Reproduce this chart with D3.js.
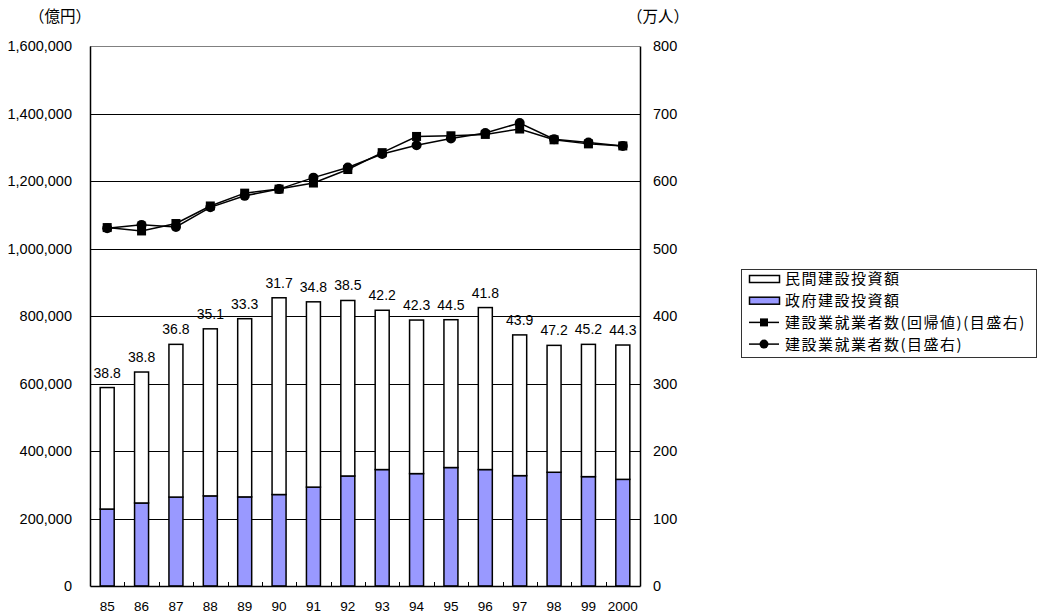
<!DOCTYPE html>
<html>
<head>
<meta charset="utf-8">
<script src="https://cdn.jsdelivr.net/npm/d3@7"></script>
<style>
  html, body { margin: 0; padding: 0; background: #fff; }
  svg { display: block; }
  .num { font-family: "Liberation Sans", Arial, sans-serif; fill: #000; }
  .jp { font-family: "Noto Sans CJK JP", "Noto Sans", sans-serif; fill: #000; }
</style>
</head>
<body>
<svg id="chart" width="1037" height="614"></svg>
<script>
// 年度
const years = ["85", "86", "87", "88", "89", "90", "91", "92", "93", "94", "95", "96", "97", "98", "99", "2000"];
// 民間建設投資額（億円）
const privateInvestment = [360000, 388000, 452500, 495000, 528000, 583000, 549000, 520000, 472000, 455000, 438000, 480000, 417000, 376000, 392000, 398000];
// 政府建設投資額（億円）
const govInvestment = [228000, 246000, 263500, 267000, 264000, 271000, 293000, 326000, 345000, 333000, 351000, 345000, 327000, 337000, 324000, 316000];
// 政府建設投資の比率（％）
const govShare = [38.8, 38.8, 36.8, 35.1, 33.3, 31.7, 34.8, 38.5, 42.2, 42.3, 44.5, 41.8, 43.9, 47.2, 45.2, 44.3];
// 建設業就業者数（回帰値）（万人）
const workersFitted = [531, 526, 537, 563, 582, 588, 597, 617, 642, 666, 667, 669, 677, 661, 655, 652];
// 建設業就業者数（万人）
const workers = [530, 535, 532, 561, 578, 588, 605, 620, 640, 653, 663, 671, 686, 662, 657, 652];
// 目盛
const leftTicks = [0, 200000, 400000, 600000, 800000, 1000000, 1200000, 1400000, 1600000];
const rightTicks = [0, 100, 200, 300, 400, 500, 600, 700, 800];

const legendItems = [
  { label: "民間建設投資額", kind: "rect", fill: "#ffffff" },
  { label: "政府建設投資額", kind: "rect", fill: "#9999ff" },
  { label: "建設業就業者数(回帰値)(目盛右)", kind: "square" },
  { label: "建設業就業者数(目盛右)", kind: "circle" }
];

const svg = d3.select("#chart");
const plot = { left: 90, right: 640, top: 46, bottom: 586 };

const x = d3.scaleBand().domain(years).range([plot.left, plot.right]).paddingInner(0).paddingOuter(0);
const yL = d3.scaleLinear().domain([0, 1600000]).range([plot.bottom, plot.top]);
const yR = d3.scaleLinear().domain([0, 800]).range([plot.bottom, plot.top]);

const rows = years.map((yr, i) => ({
  yr,
  gov: govInvestment[i],
  priv: privateInvestment[i],
  share: govShare[i],
  fitted: workersFitted[i],
  actual: workers[i]
}));

// gridlines
svg.append("g")
  .selectAll("line")
  .data(leftTicks.filter(t => t > 0 && t < 1600000))
  .join("line")
  .attr("x1", plot.left).attr("x2", plot.right)
  .attr("y1", d => Math.round(yL(d)) + 0.5).attr("y2", d => Math.round(yL(d)) + 0.5)
  .attr("stroke", "#000").attr("stroke-width", 1);

// plot frame top
svg.append("line")
  .attr("x1", plot.left).attr("x2", plot.right)
  .attr("y1", plot.top + 0.5).attr("y2", plot.top + 0.5)
  .attr("stroke", "#808080").attr("stroke-width", 1);

// stacked bars
const barW = 14;
const stack = d3.stack().keys(["gov", "priv"])(rows);
const fills = { gov: "#9999ff", priv: "#ffffff" };
svg.append("g")
  .selectAll("g")
  .data(stack)
  .join("g")
  .attr("fill", d => fills[d.key])
  .selectAll("rect")
  .data(d => d)
  .join("rect")
  .attr("x", d => x(d.data.yr) + x.bandwidth() / 2 - barW / 2)
  .attr("width", barW)
  .attr("y", d => yL(d[1]))
  .attr("height", d => yL(d[0]) - yL(d[1]))
  .attr("stroke", "#000")
  .attr("stroke-width", 1.5);

// share labels above bars
svg.append("g")
  .selectAll("text")
  .data(rows)
  .join("text")
  .attr("class", "num")
  .attr("font-size", 14)
  .attr("text-anchor", "middle")
  .attr("x", d => x(d.yr) + x.bandwidth() / 2)
  .attr("y", d => yL(d.gov + d.priv) - 10)
  .text(d => d3.format(".1f")(d.share));

// category tick marks between bars
svg.append("g")
  .selectAll("line")
  .data(years.slice(1))
  .join("line")
  .attr("x1", d => Math.round(x(d)) + 0.5).attr("x2", d => Math.round(x(d)) + 0.5)
  .attr("y1", plot.bottom).attr("y2", plot.bottom - 4)
  .attr("stroke", "#000");

// axes
const leftAxis = d3.axisLeft(yL).tickValues(leftTicks).tickFormat(d3.format(",")).tickSize(0).tickPadding(18);
const gL = svg.append("g").attr("transform", `translate(${plot.left},0)`).call(leftAxis);
const rightAxis = d3.axisRight(yR).tickValues(rightTicks).tickSize(0).tickPadding(13);
const gR = svg.append("g").attr("transform", `translate(${plot.right},0)`).call(rightAxis);
const bottomAxis = d3.axisBottom(x).tickSize(0).tickPadding(15);
const gB = svg.append("g").attr("transform", `translate(0,${plot.bottom})`).call(bottomAxis);

[gL, gR, gB].forEach(g => {
  g.select(".domain").attr("stroke", "#000").attr("stroke-width", 1.5);
  g.selectAll("text").attr("class", "num").attr("fill", "#000")
    .attr("font-family", null).attr("font-size", null).style("font-size", "14.5px");
});
gB.selectAll("text").style("font-size", "13.5px");

// lines (right scale)
const lineFitted = d3.line().x(d => x(d.yr) + x.bandwidth() / 2).y(d => yR(d.fitted));
const lineActual = d3.line().x(d => x(d.yr) + x.bandwidth() / 2).y(d => yR(d.actual));

svg.append("path").datum(rows).attr("d", lineFitted)
  .attr("fill", "none").attr("stroke", "#000").attr("stroke-width", 1.5);
svg.append("g").selectAll("rect").data(rows).join("rect")
  .attr("x", d => x(d.yr) + x.bandwidth() / 2 - 4.5)
  .attr("y", d => yR(d.fitted) - 4.5)
  .attr("width", 9).attr("height", 9).attr("fill", "#000");

svg.append("path").datum(rows).attr("d", lineActual)
  .attr("fill", "none").attr("stroke", "#000").attr("stroke-width", 1.5);
svg.append("g").selectAll("circle").data(rows).join("circle")
  .attr("cx", d => x(d.yr) + x.bandwidth() / 2)
  .attr("cy", d => yR(d.actual))
  .attr("r", 5).attr("fill", "#000");

// unit labels
svg.append("text").attr("class", "jp").attr("font-size", 15.5)
  .attr("x", 60).attr("y", 22).attr("text-anchor", "middle").text("（億円）");
svg.append("text").attr("class", "jp").attr("font-size", 15.5)
  .attr("x", 658).attr("y", 22).attr("text-anchor", "middle").text("（万人）");

// legend
const lg = svg.append("g").attr("transform", "translate(741,269)");
lg.append("rect").attr("x", 0.5).attr("y", 0.5).attr("width", 295).attr("height", 88)
  .attr("fill", "#fff").attr("stroke", "#333").attr("stroke-width", 1);
const rowY = i => 10 + i * 21.7;
const item = lg.selectAll("g.item").data(legendItems).join("g")
  .attr("class", "item")
  .attr("transform", (d, i) => `translate(0,${rowY(i)})`);
item.filter(d => d.kind === "rect").append("rect")
  .attr("x", 8.5).attr("y", -3.5).attr("width", 30).attr("height", 7)
  .attr("fill", d => d.fill).attr("stroke", "#000").attr("stroke-width", 1.5);
item.filter(d => d.kind !== "rect").append("line")
  .attr("x1", 8).attr("x2", 38).attr("y1", 0).attr("y2", 0)
  .attr("stroke", "#000").attr("stroke-width", 1.5);
item.filter(d => d.kind === "square").append("rect")
  .attr("x", 19).attr("y", -4).attr("width", 8).attr("height", 8).attr("fill", "#000");
item.filter(d => d.kind === "circle").append("circle")
  .attr("cx", 23).attr("cy", 0).attr("r", 4.5).attr("fill", "#000");
item.append("text").attr("class", "jp")
  .attr("x", 44).attr("y", 0).attr("dy", "0.36em")
  .attr("font-size", 15).attr("letter-spacing", 1.5)
  .text(d => d.label);
</script>
</body>
</html>
